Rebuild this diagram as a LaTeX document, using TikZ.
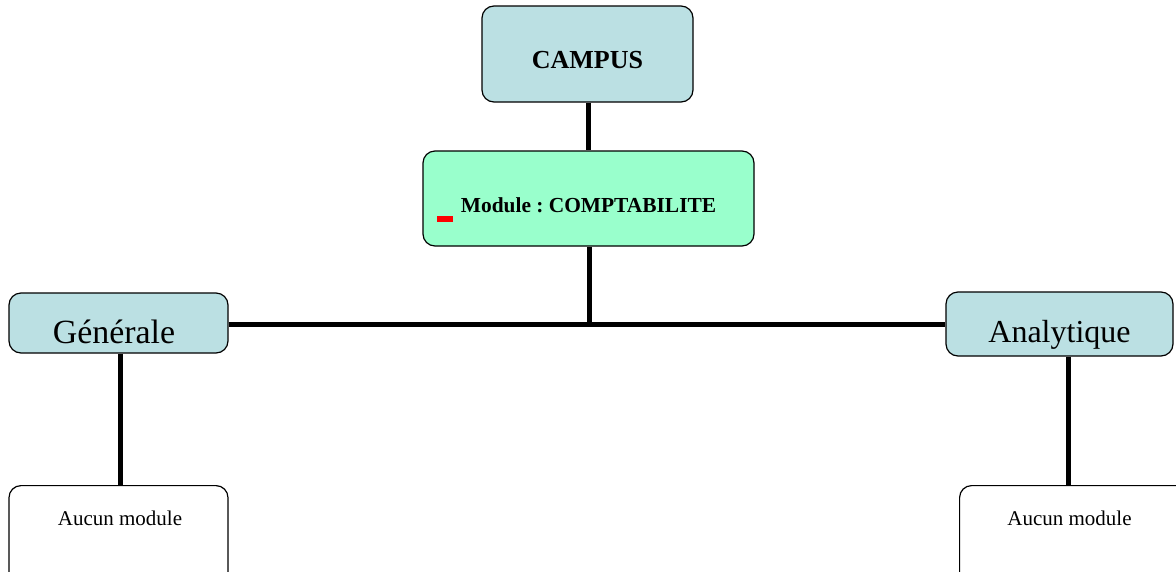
\documentclass[tikz,border=0pt]{standalone}
\usepackage{fontspec}
\setmainfont{Liberation Serif}
\frenchspacing
\definecolor{boxblue}{HTML}{BBE0E3}
\definecolor{boxgreen}{HTML}{99FFCC}
\begin{document}
\begin{tikzpicture}[x=1pt,y=-1pt,
  box/.style={draw=black,line width=1.2pt,rounded corners=12pt,inner sep=0pt},
  txt/.style={anchor=base,inner sep=0pt},
  link/.style={line width=5pt}]
\useasboundingbox (0,0) rectangle (1176,571);
\clip (0,0) rectangle (1176,571);
\node[box,fill=boxblue,minimum width=211pt,minimum height=96pt] (campus) at (587.5,54) {};
\node[txt,font=\bfseries\fontsize{26}{30}\selectfont] (campustxt) at (587.5,68) {CAMPUS};
\node[box,fill=boxgreen,minimum width=331pt,minimum height=95pt] (module) at (588.5,198.5) {};
\node[txt,font=\bfseries\fontsize{21.4}{25}\selectfont] (modtxt) at (588.5,212) {Module : COMPTABILITE};
\fill[red] (437,216) rectangle (453,222);
\node[box,fill=boxblue,minimum width=219pt,minimum height=60pt] (gen) at (118.5,323) {};
\node[txt,font=\fontsize{33.9}{38}\selectfont] (gentxt) at (114,343) {Générale};
\node[box,fill=boxblue,minimum width=227pt,minimum height=64pt] (ana) at (1059.5,324) {};
\node[txt,font=\fontsize{32}{36}\selectfont] (anatxt) at (1059.5,342) {Analytique};
\node[box,fill=white,minimum width=219pt,minimum height=110pt,anchor=north] (aucl) at (118.5,485) {};
\node[txt,font=\fontsize{21}{24}\selectfont] (aucltxt) at (120,525) {Aucun module};
\node[box,fill=white,minimum width=230pt,minimum height=110pt,anchor=north west] (aucr) at (959,485) {};
\node[txt,font=\fontsize{21}{24}\selectfont] (aucrtxt) at (1069.5,525) {Aucun module};
\coordinate (junction) at (589,324);
\draw[link] (campus.south -| 588,0) -- (module.north -| 588,0);
\draw[link] (module.south -| junction) -- (junction);
\draw[link] (gen.east |- junction) -- (ana.west |- junction);
\draw[link] (gen.south -| 120,0) -- (aucl.north -| 120,0);
\draw[link] (ana.south -| 1068,0) -- (aucr.north -| 1068,0);
\end{tikzpicture}
\end{document}
